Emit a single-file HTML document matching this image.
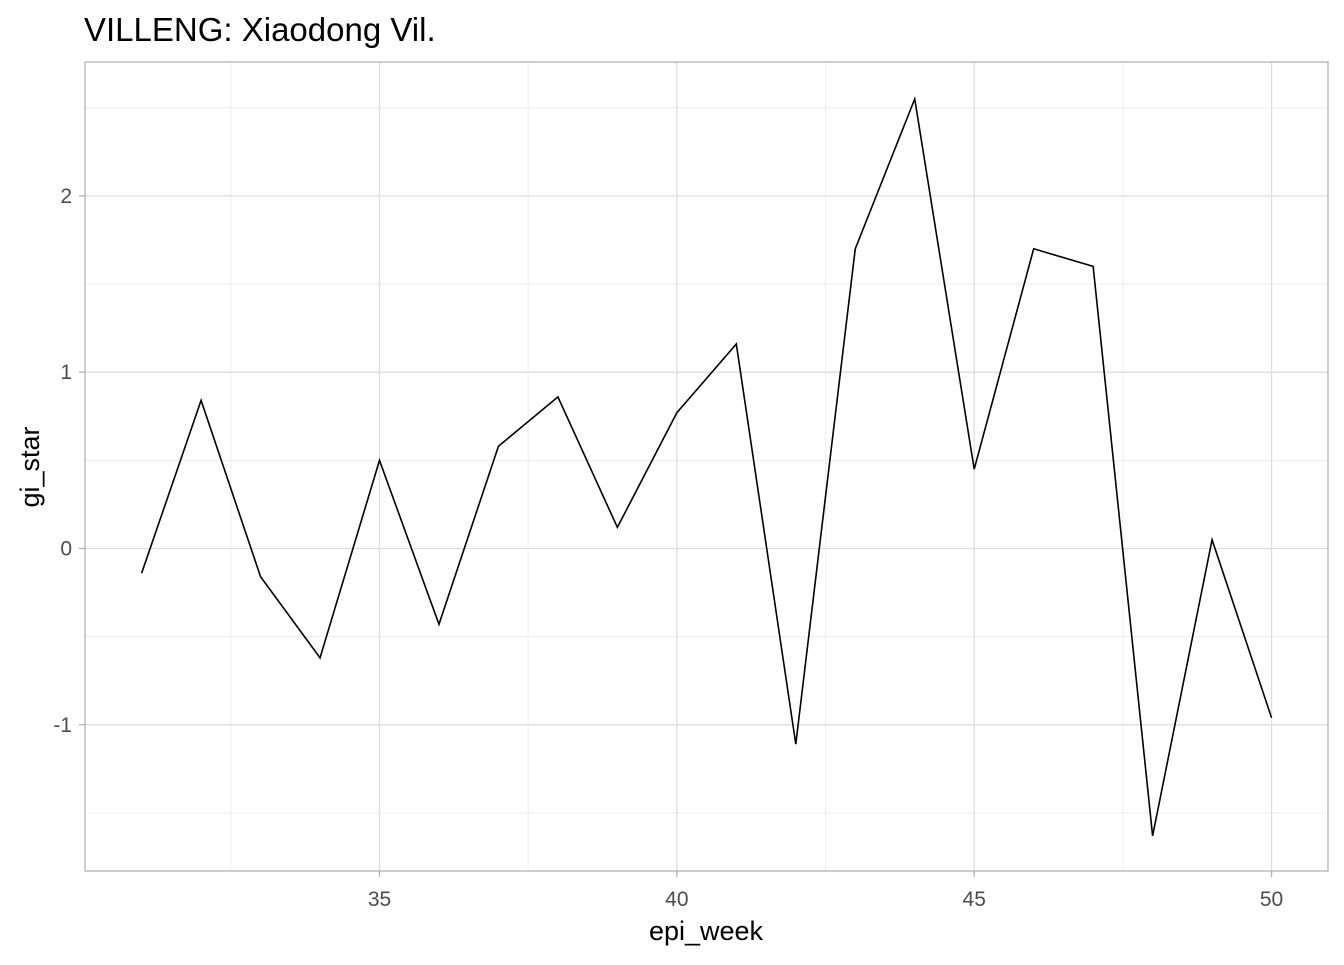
<!DOCTYPE html>
<html><head><meta charset="utf-8"><style>
body{margin:0;background:#fff;font-family:"Liberation Sans",Arial,sans-serif}
svg text{font-family:"Liberation Sans",Arial,sans-serif}
</style></head><body>
<svg id="chart" width="1344" height="960" xmlns="http://www.w3.org/2000/svg">
<text x="84" y="41" font-size="33" fill="#000">VILLENG: Xiaodong Vil.</text>
<g id="grid"></g>
<g id="ticks"></g>
<rect x="85" y="62" width="1243" height="809" fill="none" stroke="#b3b3b3" stroke-width="1.3"/>
<path id="line" fill="none" stroke="#000" stroke-width="1.6"/>
<text x="706" y="940" font-size="27" text-anchor="middle" fill="#000">epi_week</text>
<text transform="translate(39,467) rotate(-90)" font-size="27" text-anchor="middle" fill="#000">gi_star</text>
</svg>
<script>
const weeks=[31,32,33,34,35,36,37,38,39,40,41,42,43,44,45,46,47,48,49,50];
const giStar=[-0.14,0.84,-0.16,-0.62,0.50,-0.43,0.58,0.86,0.12,0.77,1.16,-1.11,1.70,2.55,0.45,1.70,1.60,-1.63,0.05,-0.96];
const xTicks=[35,40,45,50];
const yTicks=[-1,0,1,2];
const xMinor=[32.5,37.5,42.5,47.5];
const yMinor=[-1.5,-0.5,0.5,1.5,2.5];
const x=v=>379.5+(v-35)*59.47;
const y=v=>548.5-v*176.3;
const NS="http://www.w3.org/2000/svg";
const grid=document.getElementById('grid'),ticks=document.getElementById('ticks');
function ln(p,x1,y1,x2,y2,c,w,name){const l=document.createElementNS(NS,'line');
l.setAttribute('x1',x1);l.setAttribute('y1',y1);l.setAttribute('x2',x2);l.setAttribute('y2',y2);
l.setAttribute('stroke',c);l.setAttribute('stroke-width',w);


p.appendChild(l);}
function tx(p,xx,yy,s,anchor,name){const t=document.createElementNS(NS,'text');
t.setAttribute('x',xx);t.setAttribute('y',yy);t.setAttribute('font-size','21');t.setAttribute('fill','#4d4d4d');t.setAttribute('text-anchor',anchor);t.textContent=s;


p.appendChild(t);}
xMinor.forEach(v=>ln(grid,x(v),62,x(v),871,'#ededed',1,'x-minor-grid'));
yMinor.forEach(v=>ln(grid,85,y(v),1328,y(v),'#ededed',1,'y-minor-grid'));
xTicks.forEach(v=>{ln(grid,x(v),62,x(v),871,'#dedede',1.3,'x-major-grid');ln(ticks,x(v),871,x(v),877,'#b3b3b3',1.3,'x-tick');tx(ticks,x(v),906,String(v),'middle','x-tick-label');});
yTicks.forEach(v=>{ln(grid,85,y(v),1328,y(v),'#dedede',1.3,'y-major-grid');ln(ticks,79,y(v),85,y(v),'#b3b3b3',1.3,'y-tick');tx(ticks,72,y(v)+7,String(v),'end','y-tick-label');});
document.getElementById('line').setAttribute('d',weeks.map((w,i)=>(i?'L':'M')+x(w)+','+y(giStar[i])).join(''));
</script>
</body></html>
